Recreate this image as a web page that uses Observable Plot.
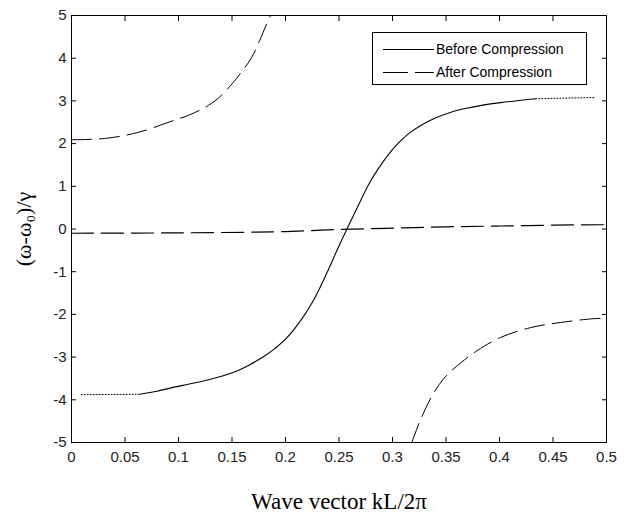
<!DOCTYPE html>
<html>
<head>
<meta charset="utf-8">
<script src="https://cdn.jsdelivr.net/npm/d3@7"></script>
<script src="https://cdn.jsdelivr.net/npm/@observablehq/plot@0.6"></script>
<style>
  html, body { margin: 0; padding: 0; background: #fff; }
  #wrap { position: relative; width: 628px; height: 517px; }
  #legend { position: absolute; left: 372px; top: 32px; width: 215px; height: 53px;
    border: 1px solid #000; background: #fff; box-sizing: border-box;
    font-family: "Liberation Sans", Arial, sans-serif; font-size: 14px; color: #000; }
  #legend .row { position: absolute; left: 0; height: 18px; display: flex; align-items: center; }
  #legend svg { display: block; }
</style>
</head>
<body>
<div id="wrap"></div>
<script>
// Tick values
const xTicks = [0, 0.05, 0.1, 0.15, 0.2, 0.25, 0.3, 0.35, 0.4, 0.45, 0.5];
const yTicks = [-5, -4, -3, -2, -1, 0, 1, 2, 3, 4, 5];

// Before Compression (solid)
const beforeX = [0.064, 0.08, 0.093, 0.11, 0.13, 0.149, 0.165, 0.18, 0.19, 0.2, 0.214, 0.225, 0.233, 0.241, 0.249, 0.258, 0.267, 0.279, 0.29, 0.298, 0.307, 0.316, 0.326, 0.34, 0.354, 0.368, 0.382, 0.401, 0.418, 0.434];
const beforeY = [-3.87, -3.80, -3.72, -3.63, -3.52, -3.38, -3.20, -2.98, -2.80, -2.58, -2.15, -1.72, -1.33, -0.90, -0.45, 0.03, 0.50, 1.10, 1.53, 1.80, 2.05, 2.25, 2.42, 2.60, 2.73, 2.82, 2.89, 2.96, 3.01, 3.05];
// dotted ends of the solid curve
const beforeLowDotX = [0.009, 0.064];
const beforeLowDotY = [-3.88, -3.87];
const beforeHighDotX = [0.434, 0.49];
const beforeHighDotY = [3.05, 3.08];

// After Compression (dashed): three branches
const afterUpX = [0, 0.031, 0.062, 0.093, 0.11, 0.125, 0.135, 0.143, 0.151, 0.159, 0.168, 0.176, 0.184, 0.186];
const afterUpY = [2.09, 2.12, 2.26, 2.52, 2.67, 2.85, 3.02, 3.20, 3.43, 3.68, 4.00, 4.42, 4.90, 5.0];
const afterMidX = [0, 0.1, 0.2, 0.25, 0.3, 0.35, 0.4, 0.45, 0.5];
const afterMidY = [-0.1, -0.09, -0.06, -0.01, 0.02, 0.05, 0.07, 0.09, 0.1];
const afterLowX = [0.318, 0.326, 0.336, 0.348, 0.364, 0.379, 0.401, 0.429, 0.457, 0.488, 0.5];
const afterLowY = [-5.0, -4.48, -3.95, -3.5, -3.13, -2.85, -2.54, -2.31, -2.19, -2.1, -2.09];

const xTitle = "Wave vector kL/2\u03c0";
const yTitle = "(\u03c9-\u03c9\u2080)/\u03b3";

const zip = (xs, ys) => xs.map((x, i) => ({x, y: ys[i]}));

const tickFont = {fontSize: 15, fontFamily: "Liberation Sans, Arial, sans-serif", fill: "#222"};
const titleFont = {fontFamily: "Liberation Serif, Times New Roman, serif", fill: "#000"};

const chart = Plot.plot({
  width: 628,
  height: 517,
  marginLeft: 71,
  marginRight: 22,
  marginTop: 15,
  marginBottom: 75,
  style: {background: "#fff", overflow: "visible"},
  x: {domain: [0, 0.5]},
  y: {domain: [-5, 5]},
  marks: [
    Plot.frame({stroke: "#000", strokeWidth: 1}),
    Plot.axisX({anchor: "bottom", ticks: xTicks, tickSize: -5, tickPadding: 14, tickFormat: d => String(d), label: null, ...tickFont}),
    Plot.axisX({anchor: "bottom", ticks: [], tickSize: 0, label: xTitle, labelAnchor: "center", labelArrow: "none", labelOffset: 66, fontSize: 23, ...titleFont}),
    Plot.axisX({anchor: "top", ticks: xTicks, tickSize: -5, tickFormat: () => "", label: null}),
    Plot.axisY({anchor: "left", ticks: yTicks, tickSize: -5, tickPadding: 10, tickFormat: d => String(d), label: null, ...tickFont}),
    Plot.axisY({anchor: "left", ticks: [], tickSize: 0, label: yTitle, labelAnchor: "center", labelArrow: "none", labelOffset: 56, fontSize: 22, ...titleFont}),
    Plot.axisY({anchor: "right", ticks: yTicks, tickSize: -5, tickFormat: () => "", label: null}),
    Plot.line(zip(beforeX, beforeY), {x: "x", y: "y", stroke: "#000", strokeWidth: 1.1, curve: "catmull-rom"}),
    Plot.line(zip(beforeLowDotX, beforeLowDotY), {x: "x", y: "y", stroke: "#000", strokeWidth: 1, strokeDasharray: "1,2"}),
    Plot.line(zip(beforeHighDotX, beforeHighDotY), {x: "x", y: "y", stroke: "#000", strokeWidth: 1, strokeDasharray: "1,2"}),
    Plot.line(zip(afterUpX, afterUpY), {x: "x", y: "y", stroke: "#000", strokeWidth: 1, strokeDasharray: "20,8", curve: "catmull-rom"}),
    Plot.line(zip(afterMidX, afterMidY), {x: "x", y: "y", stroke: "#000", strokeWidth: 1.2, strokeDasharray: "22,8", curve: "catmull-rom"}),
    Plot.line(zip(afterLowX, afterLowY), {x: "x", y: "y", stroke: "#000", strokeWidth: 1, strokeDasharray: "20,8", curve: "catmull-rom"})
  ]
});
const wrap = document.getElementById("wrap");
wrap.appendChild(chart);

// Legend
const legendItems = [
  {label: "Before Compression", dash: null},
  {label: "After Compression", dash: "25,7"}
];
const legend = document.createElement("div");
legend.id = "legend";
legendItems.forEach((it, i) => {
  const row = document.createElement("div");
  row.className = "row";
  row.style.top = (7 + i * 23) + "px";
  const svg = document.createElementNS("http://www.w3.org/2000/svg", "svg");
  svg.setAttribute("width", 63);
  svg.setAttribute("height", 18);
  const ln = document.createElementNS("http://www.w3.org/2000/svg", "line");
  ln.setAttribute("x1", 10); ln.setAttribute("x2", 61);
  ln.setAttribute("y1", 9.5); ln.setAttribute("y2", 9.5);
  ln.setAttribute("stroke", "#000"); ln.setAttribute("stroke-width", 1.1);
  if (it.dash) ln.setAttribute("stroke-dasharray", it.dash);
  svg.appendChild(ln);
  row.appendChild(svg);
  const span = document.createElement("span");
  span.textContent = it.label;
  row.appendChild(span);
  legend.appendChild(row);
});
wrap.appendChild(legend);
</script>
</body>
</html>
